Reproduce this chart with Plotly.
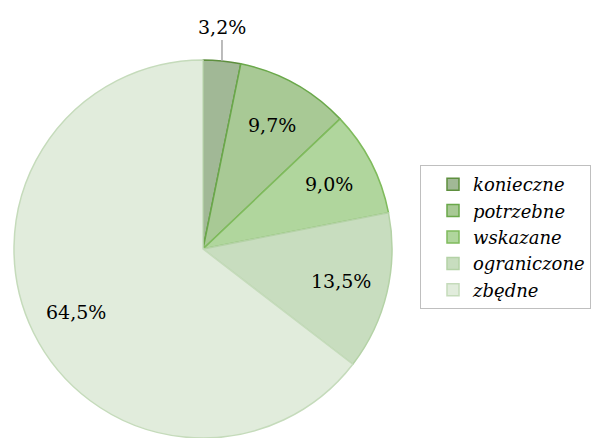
import math
import plotly.graph_objects as go

categories = ["konieczne", "potrzebne", "wskazane", "ograniczone", "zbędne"]
values = [3.2, 9.7, 9.0, 13.5, 64.5]
value_labels = ["3,2%", "9,7%", "9,0%", "13,5%", "64,5%"]

fill_colors = ["#a1b896", "#a8c995", "#b0d69d", "#c8ddbf", "#e1ecdc"]
line_colors = ["#5e8f3e", "#6aa84a", "#7fbb5c", "#b4d2a6", "#c5dbbb"]

W, H = 608, 438
cx, cy, R = 203, 249, 189
dom_x = [(cx - R) / W, (cx + R) / W]
dom_y = [(H - cy - R) / H, (H - cy + R) / H]

FONT = "DejaVu Serif"

fig = go.Figure(go.Pie(
    labels=categories,
    values=values,
    textinfo="none",
    sort=False,
    direction="clockwise",
    rotation=0,
    marker=dict(colors=fill_colors, line=dict(color=line_colors, width=1.5)),
    domain=dict(x=dom_x, y=dom_y),
    hoverinfo="label+percent",
))

total = sum(values)
cum = 0.0
for i, v in enumerate(values):
    mid = math.radians((cum + v / 2) / total * 360)
    cum += v
    if i == 0:
        px = (cx + R * math.sin(mid)) / W
        py = (H - (cy - R * math.cos(mid))) / H
        fig.add_annotation(
            x=px, y=py, xref="paper", yref="paper",
            text=value_labels[i], showarrow=True, arrowhead=0, arrowwidth=1.5,
            arrowcolor="#a6a6a6", ax=0, ay=-21, yanchor="bottom",
            font=dict(family=FONT, size=19, color="#000000"),
        )
    else:
        rr = 0.75 * R
        px = (cx + rr * math.sin(mid)) / W
        py = (H - (cy - rr * math.cos(mid))) / H
        fig.add_annotation(
            x=px, y=py, xref="paper", yref="paper",
            text=value_labels[i], showarrow=False,
            xanchor="center", yanchor="middle",
            font=dict(family=FONT, size=19, color="#000000"),
        )

fig.update_layout(
    width=W, height=H,
    margin=dict(l=0, r=0, t=0, b=0),
    paper_bgcolor="white",
    plot_bgcolor="white",
    showlegend=True,
    legend=dict(
        x=420 / W, y=1 - 165 / H, xanchor="left", yanchor="top",
        bordercolor="#bfbfbf", borderwidth=1,
        font=dict(family=FONT, size=18, color="#000000", style="italic"),
        itemwidth=30, indentation=12,
    ),
)

fig.write_html("out.html", config={"displayModeBar": False},
               post_script="document.body.style.margin='0';")
